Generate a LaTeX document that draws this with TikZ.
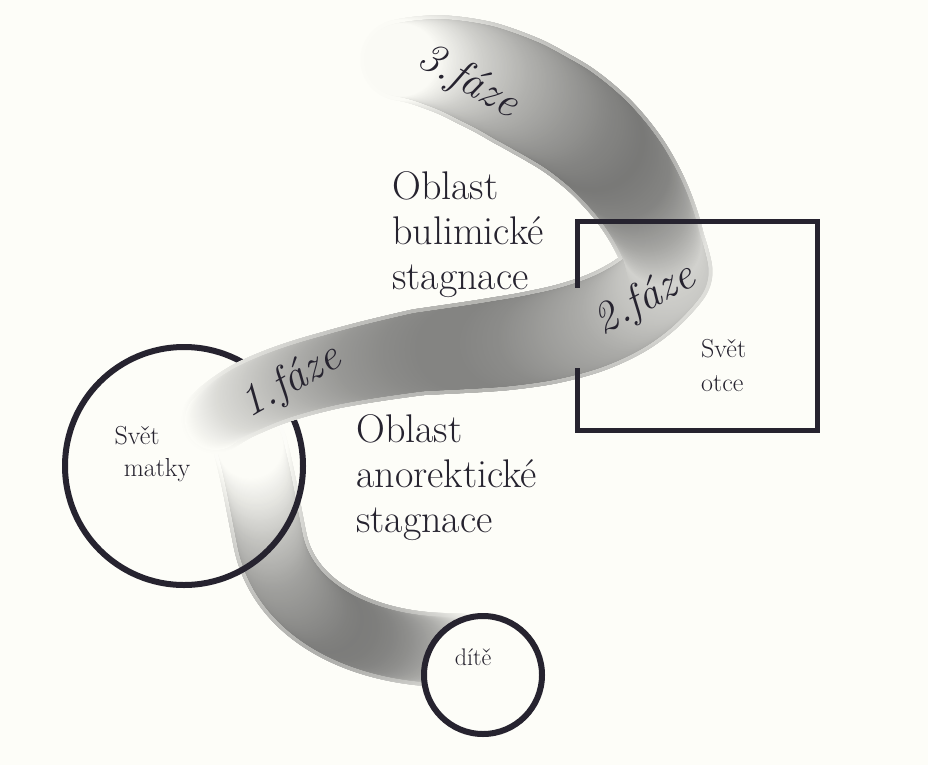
\documentclass[tikz,border=0pt]{standalone}
\usetikzlibrary{decorations.markings}
\definecolor{bg}{HTML}{FDFDF8}
\definecolor{ink}{HTML}{26232F}
\definecolor{bandgray}{HTML}{3A3A3A}
% #1 path, #2 darkness list (21 values), #3 radius list (21 values), #4 darkness factor, #5 radius offset
\newcommand\shadeband[5]{%
  \path[decorate,decoration={markings,
    mark=between positions 0 and 1 step 1.2pt with {%
      \pgfmathsetmacro\bandt{\pgfkeysvalueof{/pgf/decoration/mark info/distance from start}/\pgfdecoratedpathlength}%
      \pgfmathtruncatemacro\bandi{min(19,max(0,\bandt*20))}%
      \pgfmathtruncatemacro\bandj{\bandi+1}%
      \pgfmathsetmacro\bandf{max(0,min(1,\bandt*20-\bandi))}%
      \pgfmathsetmacro\bandd{max(0,min(100,#4*({#2}[\bandi]*(1-\bandf)+{#2}[\bandj]*\bandf)))}%
      \pgfmathsetmacro\bandw{max(1,{#3}[\bandi]*(1-\bandf)+{#3}[\bandj]*\bandf+#5)}%
      \fill[bandgray!\bandd!bg] (0,0) circle[radius=\bandw pt];
    }}] #1;
}
\newcommand\softband[3]{%
  \shadeband{#1}{#2}{#3}{0.6}{0}%
  \shadeband{#1}{#2}{#3}{1}{-4}%
}
\tikzset{
  frame/.style={draw=ink, line width=5.5pt},
  bigtext/.style={text=ink, align=left, font=\fontsize{40}{45}\selectfont, inner sep=0pt},
  smalltext/.style={text=ink, font=\fontsize{26}{30}\selectfont, inner sep=0pt},
  phase/.style={text=ink, font=\fontsize{44}{46}\selectfont\itshape, inner sep=0pt},
}
\begin{document}
\begin{tikzpicture}[x=1pt,y=-1pt]
\useasboundingbox (0,0) rectangle (928,765);
\fill[bg] (0,0) rectangle (928,765);

% lower band (dite -> matka)
\softband{(458,650) .. controls (370,652) and (285,615) .. (270,540) .. controls (262,500) and (258,475) .. (250,445)}
  {8,20,32,42,50,57,62,65,66,64,60,56,52,48,42,36,30,22,14,7,0}
  {37,37,37,37,37,37,37,37,37,37,37,37,37,37,37,37,37,37,37,37,37}
% circle of mother
\draw[frame, line width=6pt] (184,466) circle[radius=119];
% upper band (matka -> 2.faze -> 3.faze)
\softband{(215,420) .. controls (255,385) and (330,368) .. (420,352) .. controls (520,342) and (615,338) .. (668,272) .. controls (655,205) and (610,140) .. (543,105) .. controls (500,80) and (450,58) .. (400,60)}
  {0,18,30,42,52,58,62,62,58,50,42,30,22,45,62,68,62,52,40,24,0}
  {34,37,38,39,41,43,45,47,48,48,47,45,44,48,52,55,57,57,54,48,40}
% box of father (left edge partly hidden by the band)
\draw[frame, line cap=rect] (577.5,285) -- (577.5,221.5) -- (817.5,221.5) -- (817.5,430.5) -- (577.5,430.5) -- (577.5,371);
% child circle
\draw[frame, line width=6pt, fill=bg] (483,675) circle[radius=59];

\node[bigtext, anchor=west] (bul) at (392,235) {Oblast\\bulimické\\stagnace};
\node[bigtext, anchor=west] (ano) at (356,478) {Oblast\\anorektické\\stagnace};
\node[smalltext] (matka1) at (137,436) {Svět};
\node[smalltext] (matka2) at (157,470) {matky};
\node[smalltext, anchor=west] (otce1) at (701,349) {Svět};
\node[smalltext, anchor=west] (otce2) at (701,384) {otce};
\node[smalltext, font=\fontsize{24}{26}\selectfont] (dite) at (473,657) {dítě};
\node[phase, rotate=-30] (f3) at (468,82) {3.fáze};
\node[phase, rotate=28] (f2) at (645,300) {2.fáze};
\node[phase, rotate=30] (f1) at (291,382) {1.fáze};
\end{tikzpicture}
\end{document}
